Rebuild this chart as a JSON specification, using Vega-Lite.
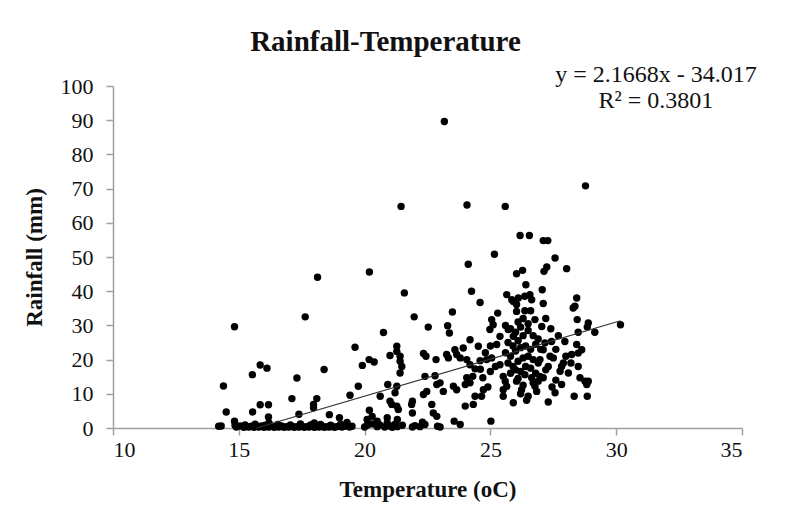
{
  "$schema": "https://vega.github.io/schema/vega-lite/v6.json",
  "width": 629,
  "height": 342,
  "autosize": "none",
  "padding": {"left": 113, "top": 86, "right": 49, "bottom": 93},
  "background": "white",
  "config": {
    "font": "Liberation Serif",
    "view": {"stroke": null},
    "axis": {
      "grid": false,
      "domainColor": "#a0a0a0",
      "domainWidth": 1.5,
      "tickColor": "#a0a0a0",
      "tickWidth": 1.5,
      "tickSize": 7,
      "labelFont": "Liberation Serif",
      "labelFontSize": 22,
      "labelColor": "#111111",
      "labelOverlap": false,
      "titleFont": "Liberation Serif",
      "titleFontSize": 23,
      "titleFontWeight": "bold",
      "titleColor": "#111111"
    }
  },
  "title": {
    "text": "Rainfall-Temperature",
    "font": "Liberation Serif",
    "fontSize": 29,
    "fontWeight": "bold",
    "color": "#111111",
    "anchor": "middle",
    "frame": "group",
    "dx": -42,
    "offset": 6
  },
  "datasets": {
    "points": [
      {"temp":14.2,"rain":0.5},{"temp":14.3,"rain":0.6},{"temp":14.85,"rain":0.8},{"temp":14.9,"rain":0.3},{"temp":15.05,"rain":0.6},{"temp":15.2,"rain":0.2},{"temp":15.3,"rain":0.4},{"temp":15.4,"rain":0.3},{"temp":15.5,"rain":0.5},{"temp":15.6,"rain":0.2},{"temp":15.7,"rain":0.4},{"temp":15.8,"rain":0.3},{"temp":15.9,"rain":0.6},{"temp":16.0,"rain":0.2},{"temp":16.1,"rain":0.4},{"temp":16.2,"rain":0.3},{"temp":16.3,"rain":0.5},{"temp":16.4,"rain":0.2},{"temp":16.5,"rain":0.4},{"temp":16.6,"rain":0.3},{"temp":16.7,"rain":0.6},{"temp":16.8,"rain":0.2},{"temp":16.9,"rain":0.4},{"temp":17.0,"rain":0.3},{"temp":17.1,"rain":0.5},{"temp":17.2,"rain":0.2},{"temp":17.3,"rain":0.4},{"temp":17.4,"rain":0.3},{"temp":17.5,"rain":0.6},{"temp":17.6,"rain":0.2},{"temp":17.7,"rain":0.4},{"temp":17.8,"rain":0.3},{"temp":17.9,"rain":0.5},{"temp":18.0,"rain":0.2},{"temp":18.1,"rain":0.4},{"temp":18.2,"rain":0.3},{"temp":18.3,"rain":0.6},{"temp":18.4,"rain":0.2},{"temp":18.5,"rain":0.4},{"temp":18.6,"rain":0.3},{"temp":18.7,"rain":0.5},{"temp":18.8,"rain":0.2},{"temp":18.9,"rain":0.4},{"temp":19.0,"rain":0.6},{"temp":19.1,"rain":0.3},{"temp":19.2,"rain":0.5},{"temp":19.3,"rain":1.0},{"temp":19.4,"rain":0.3},{"temp":19.5,"rain":0.5},{"temp":20.0,"rain":0.3},{"temp":20.1,"rain":0.8},{"temp":20.3,"rain":1.2},{"temp":20.5,"rain":0.4},{"temp":20.6,"rain":0.9},{"temp":20.8,"rain":0.3},{"temp":20.9,"rain":1.5},{"temp":21.0,"rain":0.6},{"temp":21.1,"rain":0.2},{"temp":21.2,"rain":1.0},{"temp":21.3,"rain":0.4},{"temp":21.5,"rain":0.8},{"temp":21.9,"rain":0.3},{"temp":22.0,"rain":0.7},{"temp":22.2,"rain":0.4},{"temp":22.4,"rain":1.0},{"temp":22.9,"rain":0.5},{"temp":23.0,"rain":0.3},
      {"temp":15.25,"rain":0.9},{"temp":15.65,"rain":1.1},{"temp":16.05,"rain":0.8},{"temp":16.55,"rain":1.0},{"temp":17.05,"rain":0.9},{"temp":17.45,"rain":1.2},{"temp":17.85,"rain":0.9},{"temp":18.25,"rain":1.0},{"temp":18.65,"rain":0.8},{"temp":19.05,"rain":1.1},
      {"temp":14.5,"rain":4.7},{"temp":15.55,"rain":4.7},{"temp":16.18,"rain":3.2},{"temp":15.85,"rain":6.8},{"temp":16.18,"rain":6.8},{"temp":17.11,"rain":8.6},{"temp":17.39,"rain":4.0},{"temp":18.1,"rain":8.6},{"temp":17.97,"rain":6.9},{"temp":17.97,"rain":5.9},{"temp":18.6,"rain":3.9},{"temp":19.0,"rain":3.0},{"temp":19.3,"rain":1.6},{"temp":20.1,"rain":2.5},{"temp":20.3,"rain":3.4},{"temp":14.83,"rain":2.0},{"temp":19.42,"rain":9.6},{"temp":19.75,"rain":12.2},{"temp":20.19,"rain":5.2},{"temp":20.62,"rain":9.3},{"temp":20.92,"rain":12.7},{"temp":21.28,"rain":12.2},{"temp":21.21,"rain":10.3},{"temp":21.01,"rain":7.8},{"temp":21.08,"rain":6.9},{"temp":21.28,"rain":6.4},{"temp":21.34,"rain":5.4},{"temp":20.5,"rain":2.0},{"temp":20.9,"rain":3.0},{"temp":21.3,"rain":2.5},{"temp":21.9,"rain":7.8},{"temp":21.87,"rain":6.9},{"temp":21.9,"rain":4.4},{"temp":22.3,"rain":1.7},{"temp":22.47,"rain":10.7},{"temp":22.34,"rain":9.8},{"temp":22.67,"rain":6.9},{"temp":22.73,"rain":4.4},{"temp":22.87,"rain":3.4},{"temp":23.0,"rain":13.2},{"temp":23.13,"rain":10.7},{"temp":23.53,"rain":12.2},{"temp":23.66,"rain":11.2},{"temp":23.56,"rain":2.0},{"temp":18.0,"rain":1.5},{"temp":16.2,"rain":1.5},
      {"temp":14.39,"rain":12.3},{"temp":15.85,"rain":18.4},{"temp":16.12,"rain":17.5},{"temp":15.54,"rain":15.6},{"temp":17.31,"rain":14.6},{"temp":14.83,"rain":29.6},{"temp":17.64,"rain":32.5},{"temp":18.13,"rain":44.1},{"temp":18.39,"rain":17.1},{"temp":19.62,"rain":23.6},{"temp":19.91,"rain":18.3},{"temp":20.18,"rain":20.0},{"temp":20.38,"rain":19.3},{"temp":20.19,"rain":45.6},{"temp":20.75,"rain":27.9},
      {"temp":21.01,"rain":21.2},{"temp":21.28,"rain":23.9},{"temp":21.28,"rain":22.4},{"temp":21.41,"rain":21.0},{"temp":21.41,"rain":19.5},{"temp":21.48,"rain":18.0},{"temp":21.41,"rain":16.1},{"temp":21.58,"rain":39.5},{"temp":21.97,"rain":32.5},{"temp":21.45,"rain":64.8},{"temp":22.34,"rain":21.8},{"temp":22.44,"rain":21.0},{"temp":22.84,"rain":20.0},{"temp":22.53,"rain":29.5},{"temp":23.3,"rain":29.9},{"temp":23.37,"rain":27.8},{"temp":23.26,"rain":21.5},{"temp":23.33,"rain":20.5},{"temp":23.49,"rain":33.9},{"temp":23.59,"rain":22.9},{"temp":23.92,"rain":23.4},{"temp":23.66,"rain":21.5},{"temp":23.8,"rain":20.5},{"temp":22.4,"rain":15.1},{"temp":22.8,"rain":15.3},{"temp":22.87,"rain":12.7},{"temp":23.17,"rain":89.6},{"temp":24.06,"rain":20.0},{"temp":24.19,"rain":18.5},{"temp":24.39,"rain":17.3},{"temp":24.59,"rain":19.7},{"temp":24.85,"rain":20.0},{"temp":25.05,"rain":20.5},{"temp":24.12,"rain":47.9},{"temp":24.25,"rain":40.0},{"temp":24.59,"rain":36.7},{"temp":24.07,"rain":65.2},{"temp":24.19,"rain":25.8},{"temp":24.52,"rain":23.9},{"temp":25.05,"rain":31.7},{"temp":25.11,"rain":30.2},{"temp":24.98,"rain":28.8},{"temp":25.29,"rain":33.6},{"temp":25.16,"rain":50.8},{"temp":24.0,"rain":6.4},{"temp":24.32,"rain":6.9},{"temp":24.39,"rain":9.3},{"temp":24.65,"rain":9.3},{"temp":24.72,"rain":11.2},{"temp":24.06,"rain":14.7},{"temp":24.19,"rain":13.2},{"temp":24.0,"rain":12.7},{"temp":24.3,"rain":15.1},{"temp":24.6,"rain":17.2},{"temp":24.7,"rain":14.7},{"temp":25.02,"rain":2.0},{"temp":24.9,"rain":12.0},{"temp":25.0,"rain":16.5},{"temp":25.2,"rain":18.0},{"temp":24.8,"rain":22.0},{"temp":25.0,"rain":24.0},{"temp":25.25,"rain":24.4},{"temp":25.38,"rain":26.8},{"temp":23.8,"rain":1.0},{"temp":25.51,"rain":11.2},{"temp":25.51,"rain":9.3},{"temp":25.91,"rain":7.4},
      {"temp":25.59,"rain":64.8},{"temp":25.65,"rain":39.0},{"temp":25.91,"rain":37.0},{"temp":26.11,"rain":38.0},{"temp":26.04,"rain":45.1},{"temp":26.18,"rain":56.3},{"temp":26.55,"rain":56.3},{"temp":26.28,"rain":46.1},{"temp":26.41,"rain":41.9},{"temp":25.85,"rain":37.5},{"temp":26.37,"rain":38.5},{"temp":26.57,"rain":39.0},{"temp":26.64,"rain":37.5},{"temp":26.04,"rain":36.1},{"temp":26.04,"rain":34.1},{"temp":26.37,"rain":34.3},{"temp":26.6,"rain":34.3},{"temp":26.77,"rain":31.7},{"temp":27.04,"rain":29.7},{"temp":25.71,"rain":28.8},{"temp":25.91,"rain":26.8},{"temp":25.6,"rain":30.0},{"temp":25.8,"rain":29.0},{"temp":26.0,"rain":28.0},{"temp":26.2,"rain":29.5},{"temp":25.7,"rain":25.0},{"temp":25.9,"rain":24.0},{"temp":26.1,"rain":25.5},{"temp":26.3,"rain":27.0},{"temp":26.5,"rain":28.5},{"temp":26.7,"rain":27.0},{"temp":26.9,"rain":26.0},{"temp":25.6,"rain":22.0},{"temp":25.8,"rain":21.0},{"temp":26.0,"rain":22.5},{"temp":26.2,"rain":23.5},{"temp":26.4,"rain":24.0},{"temp":26.6,"rain":23.0},{"temp":26.8,"rain":24.5},{"temp":27.0,"rain":23.0},{"temp":25.7,"rain":19.0},{"temp":25.9,"rain":18.0},{"temp":26.1,"rain":19.5},{"temp":26.3,"rain":20.5},{"temp":26.5,"rain":21.0},{"temp":26.7,"rain":20.0},{"temp":26.9,"rain":19.0},{"temp":25.8,"rain":16.0},{"temp":26.0,"rain":17.0},{"temp":26.2,"rain":16.5},{"temp":26.4,"rain":18.0},{"temp":26.6,"rain":17.5},{"temp":26.8,"rain":16.0},{"temp":25.38,"rain":18.5},{"temp":26.24,"rain":11.2},{"temp":26.04,"rain":13.7},{"temp":25.65,"rain":12.2},{"temp":25.59,"rain":13.7},{"temp":25.51,"rain":15.1},{"temp":26.37,"rain":15.6},{"temp":26.64,"rain":14.7},{"temp":26.7,"rain":13.2},{"temp":26.44,"rain":8.1},{"temp":26.5,"rain":9.3},{"temp":26.2,"rain":10.0},{"temp":26.3,"rain":12.5},{"temp":26.1,"rain":14.5},{"temp":26.3,"rain":32.0},{"temp":26.1,"rain":31.0},{"temp":26.5,"rain":30.5},{"temp":27.06,"rain":40.4},{"temp":27.1,"rain":36.4},{"temp":27.13,"rain":45.8},{"temp":27.24,"rain":47.1},{"temp":27.1,"rain":54.8},{"temp":27.28,"rain":54.8},{"temp":27.57,"rain":49.7},{"temp":28.03,"rain":46.6},
      {"temp":26.97,"rain":15.1},{"temp":27.1,"rain":14.7},{"temp":26.9,"rain":13.7},{"temp":26.77,"rain":12.2},{"temp":26.84,"rain":10.7},{"temp":27.83,"rain":12.7},{"temp":27.57,"rain":10.3},{"temp":27.3,"rain":7.6},{"temp":28.33,"rain":9.3},{"temp":28.85,"rain":9.3},{"temp":27.43,"rain":25.3},{"temp":27.17,"rain":24.9},{"temp":27.37,"rain":21.0},{"temp":26.97,"rain":20.0},{"temp":27.1,"rain":22.9},{"temp":27.3,"rain":18.0},{"temp":28.49,"rain":18.0},{"temp":27.83,"rain":18.0},{"temp":27.9,"rain":19.0},{"temp":27.77,"rain":16.6},{"temp":28.1,"rain":16.1},{"temp":28.56,"rain":14.7},{"temp":28.76,"rain":13.7},{"temp":28.89,"rain":13.7},{"temp":28.83,"rain":12.7},{"temp":27.96,"rain":25.3},{"temp":28.43,"rain":24.4},{"temp":28.63,"rain":22.9},{"temp":28.49,"rain":21.9},{"temp":28.23,"rain":21.5},{"temp":28.43,"rain":38.0},{"temp":28.36,"rain":35.6},{"temp":28.29,"rain":35.1},{"temp":28.45,"rain":31.7},{"temp":28.89,"rain":30.7},{"temp":28.85,"rain":29.5},{"temp":29.15,"rain":28.0},{"temp":28.49,"rain":28.0},{"temp":30.17,"rain":30.2},{"temp":28.78,"rain":70.8},{"temp":27.5,"rain":20.5},{"temp":27.6,"rain":23.0},{"temp":27.7,"rain":27.0},{"temp":27.4,"rain":29.0},{"temp":27.2,"rain":32.0},{"temp":27.6,"rain":14.0},{"temp":27.45,"rain":12.0},{"temp":28.0,"rain":21.0},{"temp":28.2,"rain":19.0},{"temp":27.2,"rain":17.0}
    ],
    "trend": [
      {"temp":15.70,"rain":0},
      {"temp":30.17,"rain":31.35}
    ],
    "notes": [
      {"label":"y = 2.1668x - 34.017","temp":31.58,"rain":103.2},
      {"label":"R² = 0.3801","temp":31.58,"rain":95.7}
    ]
  },
  "encoding": {
    "x": {
      "field": "temp", "type": "quantitative",
      "scale": {"domain": [10, 35], "nice": false, "zero": false},
      "axis": {"values": [10, 15, 20, 25, 30, 35], "title": "Temperature (oC)", "labelPadding": 4, "titlePadding": 18, "labelOverlap": false}
    },
    "y": {
      "field": "rain", "type": "quantitative",
      "scale": {"domain": [0, 100], "nice": false},
      "axis": {"values": [0, 10, 20, 30, 40, 50, 60, 70, 80, 90, 100], "title": "Rainfall (mm)", "labelPadding": 13, "titlePadding": 14, "labelOverlap": false, "labelBound": false}
    }
  },
  "layer": [
    {
      "data": {"name": "points"},
      "mark": {"type": "circle", "size": 55, "color": "#000000", "opacity": 1}
    },
    {
      "data": {"name": "trend"},
      "mark": {"type": "line", "color": "#333333", "strokeWidth": 1.2}
    },
    {
      "data": {"name": "notes"},
      "mark": {"type": "text", "font": "Liberation Serif", "fontSize": 24, "color": "#111111", "align": "center", "baseline": "middle"},
      "encoding": {
        "text": {"field": "label"}
      }
    }
  ]
}
